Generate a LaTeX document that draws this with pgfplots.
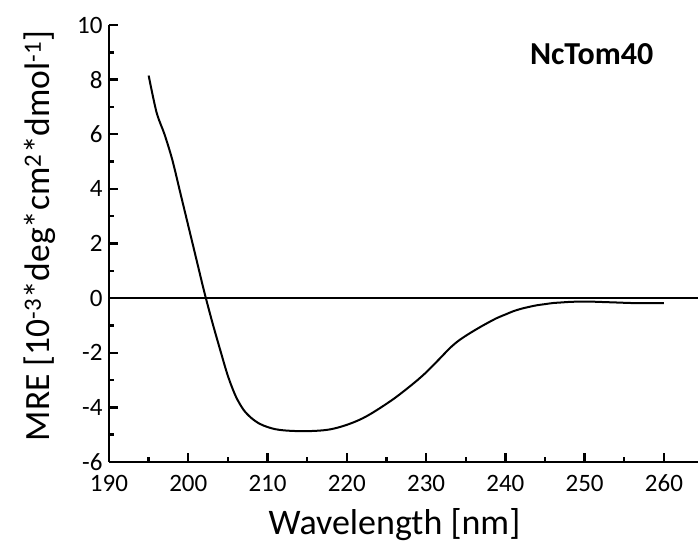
\documentclass[border=0pt]{standalone}
\usepackage{fontspec}
\setmainfont{Carlito}
\usepackage{pgfplots}
\pgfplotsset{compat=1.18}
\begin{document}
\begin{tikzpicture}[x=1pt,y=1pt]
\begin{axis}[
  scale only axis,
  width=589pt, height=437pt,
  xmin=190, xmax=264.3,
  ymin=-6, ymax=10,
  axis x line*=bottom, axis y line*=left,
  axis line style={line width=2.6pt},
  xtick={190,200,...,260},
  minor xtick={195,205,...,255},
  ytick={-6,-4,...,10},
  minor ytick={-5,-3,...,9},
  tick align=inside,
  major tick length=9pt, minor tick length=5pt,
  every tick/.style={black, line width=2.4pt},
  /pgf/number format/assume math mode=true,
  tick label style={font=\fontsize{25}{28}\selectfont},
  xticklabel style={anchor=base, yshift=-29.5pt},
  yticklabel style={xshift=-3pt},
  xlabel={Wavelength [nm]},
  ylabel={MRE [10\textsuperscript{-3}*deg*cm\textsuperscript{2}*dmol\textsuperscript{-1}]},
  xlabel style={font=\fontsize{36}{40}\selectfont, at={([xshift=-9pt,yshift=-73pt]axis description cs:0.5,0)}, anchor=base},
  ylabel style={font=\fontsize{35.5}{40}\selectfont, at={([xshift=-59pt]axis description cs:0,0.517)}, anchor=base},
  clip=false,
]
\addplot[black, line width=1.3pt] coordinates {(190,0) (264.3,0)};
\addplot[black, line width=2pt, smooth, tension=0.5] coordinates {
(195,8.15) (196,6.8) (197,6.0) (198,5.05) (199,3.85) (200,2.65)
(201,1.45) (202,0.25) (203,-0.85) (204,-1.87) (205,-2.85) (206,-3.6)
(207,-4.1) (208,-4.4) (209,-4.6) (210,-4.72) (211,-4.8) (212,-4.84)
(213,-4.86) (214,-4.87) (215,-4.87) (216,-4.86) (217,-4.84) (218,-4.8)
(219,-4.73) (220,-4.64) (221,-4.53) (222,-4.4) (223,-4.24) (224,-4.06)
(225,-3.87) (226,-3.67) (227,-3.45) (228,-3.22) (229,-2.98) (230,-2.72)
(231,-2.43) (232,-2.13) (233,-1.83) (234,-1.58) (235,-1.38) (236,-1.2)
(237,-1.03) (238,-0.87) (239,-0.72) (240,-0.6) (241,-0.48) (242,-0.39)
(243,-0.32) (244,-0.26) (245,-0.22) (246,-0.18) (247,-0.16) (248,-0.14)
(249,-0.13) (250,-0.13) (251,-0.13) (252,-0.14) (254,-0.16) (256,-0.18)
(258,-0.18) (260,-0.18)
};
\node[font=\fontsize{32}{36}\selectfont\bfseries, anchor=north east] at (rel axis cs:0.93,0.965) {NcTom40};
\coordinate (ll) at (rel axis cs:0,0);
\coordinate (ur) at (rel axis cs:1,1);
\end{axis}
\pgfresetboundingbox
\path ([shift={(-109pt,-85pt)}]ll) rectangle ([shift={(0pt,25pt)}]ur);
\end{tikzpicture}
\end{document}
